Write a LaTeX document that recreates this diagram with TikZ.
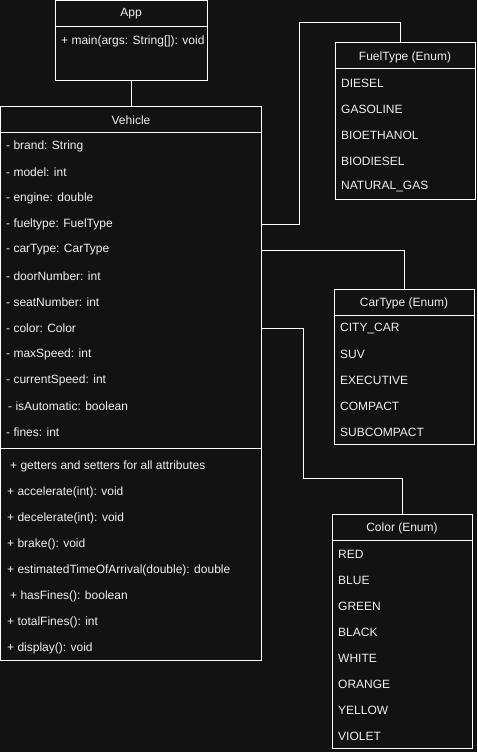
\documentclass[tikz,border=0pt]{standalone}
\usepackage{fontspec}
\setmainfont{Liberation Sans}
\usetikzlibrary{positioning,calc}
\definecolor{bgcol}{HTML}{121212}
\definecolor{txtcol}{HTML}{F0F0F0}

\begin{document}
\begin{tikzpicture}[x=1pt, y=-1pt,
  box/.style={draw=white, line width=1pt, anchor=north west,
              inner sep=0pt, outer sep=0pt},
  row/.style={anchor=west, inner sep=0pt, text=txtcol,
              font=\fontsize{12}{14}\selectfont},
  head/.style={inner sep=0pt, text=txtcol,
               font=\fontsize{12}{14}\selectfont},
  conn/.style={draw=white, line width=1pt},
  sep/.style={draw=white, line width=1pt}
]
  \fill[bgcol] (0,0) rectangle (477,752);
  \useasboundingbox (0,0) rectangle (477,752);

  % class boxes
  \node[box, minimum width=152pt, minimum height=79pt] (app) at (55,1) {};
  \node[box, minimum width=261pt, minimum height=554pt] (vehicle) at (0.5,106) {};
  \node[box, minimum width=140pt, minimum height=156pt] (fuel) at (335,43) {};
  \node[box, minimum width=140pt, minimum height=155pt] (car) at (334,289) {};
  \node[box, minimum width=140pt, minimum height=234pt] (color) at (332,514) {};

  % header separators
  \foreach \b in {app, vehicle, fuel, car, color}
    \draw[sep] ([yshift=-26pt]\b.north west) -- ([yshift=-26pt]\b.north east);
  \draw[sep] ([yshift=-342pt]vehicle.north west) -- ([yshift=-342pt]vehicle.north east);

  % titles
  \node[head] (app-title) at (131,14) {App};
  \node[head] (vehicle-title) at (131,120) {Vehicle};
  \node[head] (fuel-title) at (405,57) {FuelType (Enum)};
  \node[head] (car-title) at (404,303) {CarType (Enum)};
  \node[head] (color-title) at (402,528) {Color (Enum)};

  \node[row] (app-main) at (61,41) {+ main(args: String[]): void};

  % attributes
  \foreach \t [count=\i] in {{- brand: String}, {- model: int}, {- engine: double},
      {- fueltype: FuelType}, {- carType: CarType}, {- doorNumber: int},
      {- seatNumber: int}, {- color: Color}, {- maxSpeed: int},
      {- currentSpeed: int}, {\hspace{2pt}- isAutomatic: boolean}, {- fines: int}}
    \node[row] (attr\i) at (6,120+26*\i) {\t};

  % methods
  \foreach \t [count=\i] in {{\hspace{3pt}+ getters and setters for all attributes},
      {+ accelerate(int): void}, {+ decelerate(int): void}, {+ brake(): void},
      {+ estimatedTimeOfArrival(double): double}, {\hspace{3pt}+ hasFines(): boolean},
      {+ totalFines(): int}, {+ display(): void}}
    \node[row] (meth\i) at (7,440+26*\i) {\t};

  % enum values
  \foreach \t [count=\i] in {DIESEL, GASOLINE, BIOETHANOL, BIODIESEL, NATURAL\_GAS}
    \node[row] (fuel\i) at (341,57+26*\i) {\t};
  \foreach \t [count=\i] in {CITY\_CAR, SUV, EXECUTIVE, COMPACT, SUBCOMPACT}
    \node[row] (car\i) at (340,302+26*\i) {\t};
  \foreach \t [count=\i] in {RED, BLUE, GREEN, BLACK, WHITE, ORANGE, YELLOW, VIOLET}
    \node[row] (color\i) at (338,528+26*\i) {\t};

  % connectors
  \coordinate (fuelbend) at (299,23);
  \coordinate (colorbend) at (303,478);
  \draw[conn] (app.south) -- (vehicle.north);
  \draw[conn] (vehicle.east |- attr4) -| (fuelbend) -| ([xshift=-5pt]fuel.north);
  \draw[conn] (vehicle.east |- attr5) -| (car.north);
  \draw[conn] (vehicle.east |- attr8) -| (colorbend) -| (color.north);
\end{tikzpicture}
\end{document}
